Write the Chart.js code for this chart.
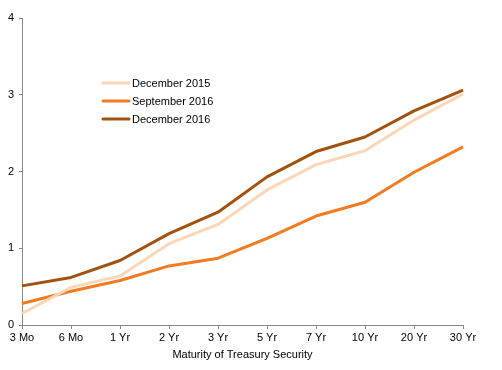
<!DOCTYPE html>
<html>
<head>
<meta charset="utf-8">
<script src="https://cdn.jsdelivr.net/npm/chart.js@4.4.1/dist/chart.umd.min.js"></script>
<style>
html,body{margin:0;padding:0;background:#fff;}
#wrap{width:502px;height:370px;position:relative;}
</style>
</head>
<body>
<div id="wrap"><canvas id="c" width="502" height="370"></canvas></div>
<script>
const categories = ["3 Mo","6 Mo","1 Yr","2 Yr","3 Yr","5 Yr","7 Yr","10 Yr","20 Yr","30 Yr"];
const seriesNames = ["December 2015","September 2016","December 2016"];
const dec2015 = [0.15,0.49,0.64,1.06,1.31,1.76,2.09,2.27,2.67,3.01];
const sep2016 = [0.28,0.44,0.58,0.77,0.87,1.13,1.42,1.60,1.99,2.32];
const dec2016 = [0.51,0.62,0.84,1.19,1.47,1.93,2.26,2.45,2.79,3.06];
const yTicks = [0,1,2,3,4];
const colors = ["#FCD6B8","#F47B20","#A3520E"];

const FONT = "'Liberation Sans', Arial, sans-serif";

const legendPlugin = {
  id: 'inlineLegend',
  afterDraw(chart) {
    const ctx = chart.ctx;
    ctx.save();
    ctx.font = "11px " + FONT;
    ctx.textBaseline = 'middle';
    ctx.textAlign = 'left';
    const ys = [83, 101, 119];
    chart.data.datasets.forEach((ds, i) => {
      ctx.strokeStyle = ds.borderColor;
      ctx.lineWidth = 3;
      ctx.lineCap = 'round';
      ctx.beginPath();
      ctx.moveTo(103, ys[i]);
      ctx.lineTo(129, ys[i]);
      ctx.stroke();
      ctx.fillStyle = '#000';
      ctx.fillText(ds.label, 132, ys[i] + 0.5);
    });
    ctx.restore();
  }
};

new Chart(document.getElementById('c'), {
  type: 'line',
  data: {
    labels: categories,
    datasets: [
      {label: seriesNames[0], data: dec2015, borderColor: colors[0], backgroundColor: colors[0]},
      {label: seriesNames[1], data: sep2016, borderColor: colors[1], backgroundColor: colors[1]},
      {label: seriesNames[2], data: dec2016, borderColor: colors[2], backgroundColor: colors[2]}
    ].map(d => Object.assign(d, {borderWidth: 3, pointRadius: 0, tension: 0, fill: false, borderJoinStyle: 'round'}))
  },
  options: {
    responsive: false,
    animation: false,
    devicePixelRatio: 1,
    layout: {padding: {left: 0, right: 39, top: 18, bottom: 0}},
    plugins: {legend: {display: false}, tooltip: {enabled: false}},
    scales: {
      x: {
        offset: false,
        grid: {display: true, drawOnChartArea: false, drawTicks: true, tickLength: 4, color: '#888', tickColor: '#888'},
        border: {display: true, color: '#888', width: 1},
        ticks: {color: '#000', font: {family: FONT, size: 11}, padding: 2, maxRotation: 0, autoSkip: false},
        title: {display: true, text: 'Maturity of Treasury Security', color: '#000', font: {family: FONT, size: 11}, padding: {top: 0, bottom: 8}},
        afterFit(scale) { scale.height = 45; }
      },
      y: {
        min: 0, max: 4,
        afterBuildTicks(scale) { scale.ticks = yTicks.map(v => ({value: v})); },
        grid: {display: true, drawOnChartArea: false, drawTicks: true, tickLength: 3, color: '#888', tickColor: '#888'},
        border: {display: true, color: '#888', width: 1},
        ticks: {color: '#000', font: {family: FONT, size: 11}, padding: 5},
        afterFit(scale) { scale.width = 22; }
      }
    }
  },
  plugins: [legendPlugin]
});
</script>
</body>
</html>
